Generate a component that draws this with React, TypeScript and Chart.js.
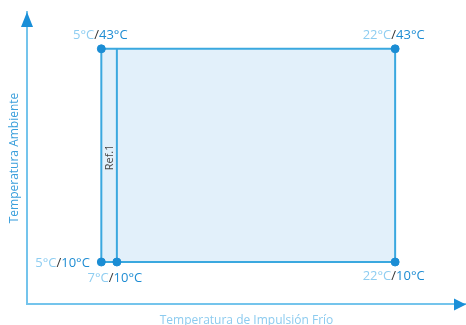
import React, { useEffect, useRef } from "react";
import { Chart, registerables } from "chart.js";

Chart.register(...registerables);

// ---- data ----
// Rectangle corners (x = impulse temperature position, y = ambient temperature)
const rectX = [5, 5, 22, 22, 5];
const rectY = [10, 43, 43, 10, 10];
// Ref.1 vertical line (plotted position of the 7°C line, read from the schematic)
const refX = [5.9, 5.9];
const refY = [10, 43];
const refLabel = "Ref.1";
// Marked points and their labels
const pointX = [5, 22, 5, 5.9, 22];
const pointY = [43, 43, 10, 10, 10];
const impulseLabels = ["5°C", "22°C", "5°C", "7°C", "22°C"];
const ambientLabels = ["43°C", "43°C", "10°C", "10°C", "10°C"];
const xTitle = "Temperatura de Impulsión Frío";
const yTitle = "Temperatura Ambiente";

// ---- styles ----
const FONT = "'Open Sans', 'Noto Sans', sans-serif";
const C_AXIS = "#74c4ec";
const C_ARROW = "#1a8fd8";
const C_RECT = "#3aa8df";
const C_FILL = "#e2f0fa";
const C_POINT = "#1b8dd4";
const C_LIGHT = "#8ecdf1";
const C_SLASH = "#333333";
const C_DARK = "#1d8cd3";
// label placement per point: [mode, dx, dy]
const placement: [string, number, number][] = [
  ["center", -1, -13.5],
  ["center", -1.5, -13.5],
  ["right", -11.5, 1],
  ["center", -2, 16.5],
  ["center", -1.5, 14.5],
];

const labelPlugin = {
  id: "cornerLabels",
  afterDraw(chart: any) {
    const ctx = chart.ctx;
    const xs = chart.scales.x;
    const ys = chart.scales.y;
    const area = chart.chartArea;
    ctx.save();
    // arrows
    ctx.fillStyle = C_ARROW;
    ctx.beginPath();
    ctx.moveTo(area.left, area.top);
    ctx.lineTo(area.left - 6, area.top + 15);
    ctx.lineTo(area.left + 6, area.top + 15);
    ctx.closePath();
    ctx.fill();
    ctx.beginPath();
    ctx.moveTo(area.right, area.bottom + 0.5);
    ctx.lineTo(area.right - 12, area.bottom - 5.5);
    ctx.lineTo(area.right - 12, area.bottom + 6.5);
    ctx.closePath();
    ctx.fill();

    // point labels
    ctx.font = `13px ${FONT}`;
    ctx.textBaseline = "middle";
    ctx.textAlign = "left";
    for (let i = 0; i < pointX.length; i++) {
      const px = xs.getPixelForValue(pointX[i]);
      const py = ys.getPixelForValue(pointY[i]);
      const parts: [string, string][] = [
        [impulseLabels[i], C_LIGHT],
        ["/", C_SLASH],
        [ambientLabels[i], C_DARK],
      ];
      const widths = parts.map((p) => ctx.measureText(p[0]).width);
      const total = widths.reduce((a, b) => a + b, 0);
      const [mode, dx, dy] = placement[i];
      let x = px + dx;
      if (mode === "center") x -= total / 2;
      else if (mode === "right") x -= total;
      const y = py + dy;
      parts.forEach((p, k) => {
        ctx.fillStyle = p[1];
        ctx.fillText(p[0], x, y);
        x += widths[k];
      });
    }

    // Ref.1 label
    const rx = xs.getPixelForValue(refX[0]);
    const ry = (ys.getPixelForValue(refY[0]) + ys.getPixelForValue(refY[1])) / 2;
    ctx.translate(rx - 7, ry + 2);
    ctx.rotate(-Math.PI / 2);
    ctx.font = `11px ${FONT}`;
    ctx.fillStyle = "#444444";
    ctx.textAlign = "center";
    ctx.fillText(refLabel, 0, 0);
    ctx.restore();
  },
};

export default function App() {
  const ref = useRef<HTMLCanvasElement>(null);
  useEffect(() => {
    if (!ref.current) return;
    const chart = new Chart(ref.current, {
      type: "scatter",
      data: {
        datasets: [
          {
            data: rectX.map((x, i) => ({ x, y: rectY[i] })),
            showLine: true,
            fill: "shape",
            backgroundColor: C_FILL,
            borderColor: C_RECT,
            borderWidth: 2,
            pointRadius: 0,
            tension: 0,
            order: 3,
          } as any,
          {
            data: refX.map((x, i) => ({ x, y: refY[i] })),
            showLine: true,
            borderColor: C_RECT,
            borderWidth: 2,
            pointRadius: 0,
            order: 2,
          },
          {
            data: pointX.map((x, i) => ({ x, y: pointY[i] })),
            pointRadius: 4,
            pointBackgroundColor: C_POINT,
            pointBorderColor: C_POINT,
            pointBorderWidth: 1,
            order: 1,
          },
        ],
      },
      options: {
        responsive: false,
        animation: false,
        layout: { autoPadding: false, padding: { top: 12, right: 0, left: 0, bottom: 0 } },
        plugins: { legend: { display: false }, tooltip: { enabled: false } },
        scales: {
          x: {
            type: "linear",
            min: 0.7,
            max: 26.1,
            ticks: { display: false },
            grid: { display: false },
            border: { display: true, color: C_AXIS, width: 2 },
            title: {
              display: true,
              text: xTitle,
              color: "#8ccbef",
              font: { family: FONT, size: 12 },
              padding: { top: 0, bottom: -3 },
            },
            afterFit: (s: any) => {
              s.height = 21;
            },
          },
          y: {
            type: "linear",
            min: 3.5,
            max: 48.7,
            ticks: { display: false },
            grid: { display: false },
            border: { display: true, color: C_AXIS, width: 2 },
            title: {
              display: true,
              text: yTitle,
              color: "#3a9fdc",
              font: { family: FONT, size: 12 },
              padding: { top: 7, bottom: 0 },
            },
            afterFit: (s: any) => {
              s.width = 27;
            },
          },
        },
      } as any,
      plugins: [labelPlugin],
    });
    return () => chart.destroy();
  }, []);
  return (
    <div style={{ position: "fixed", left: 0, top: 0, width: 466, height: 325, background: "#fff" }}>
      <canvas ref={ref} width={466} height={325} style={{ display: "block" }} />
    </div>
  );
}
